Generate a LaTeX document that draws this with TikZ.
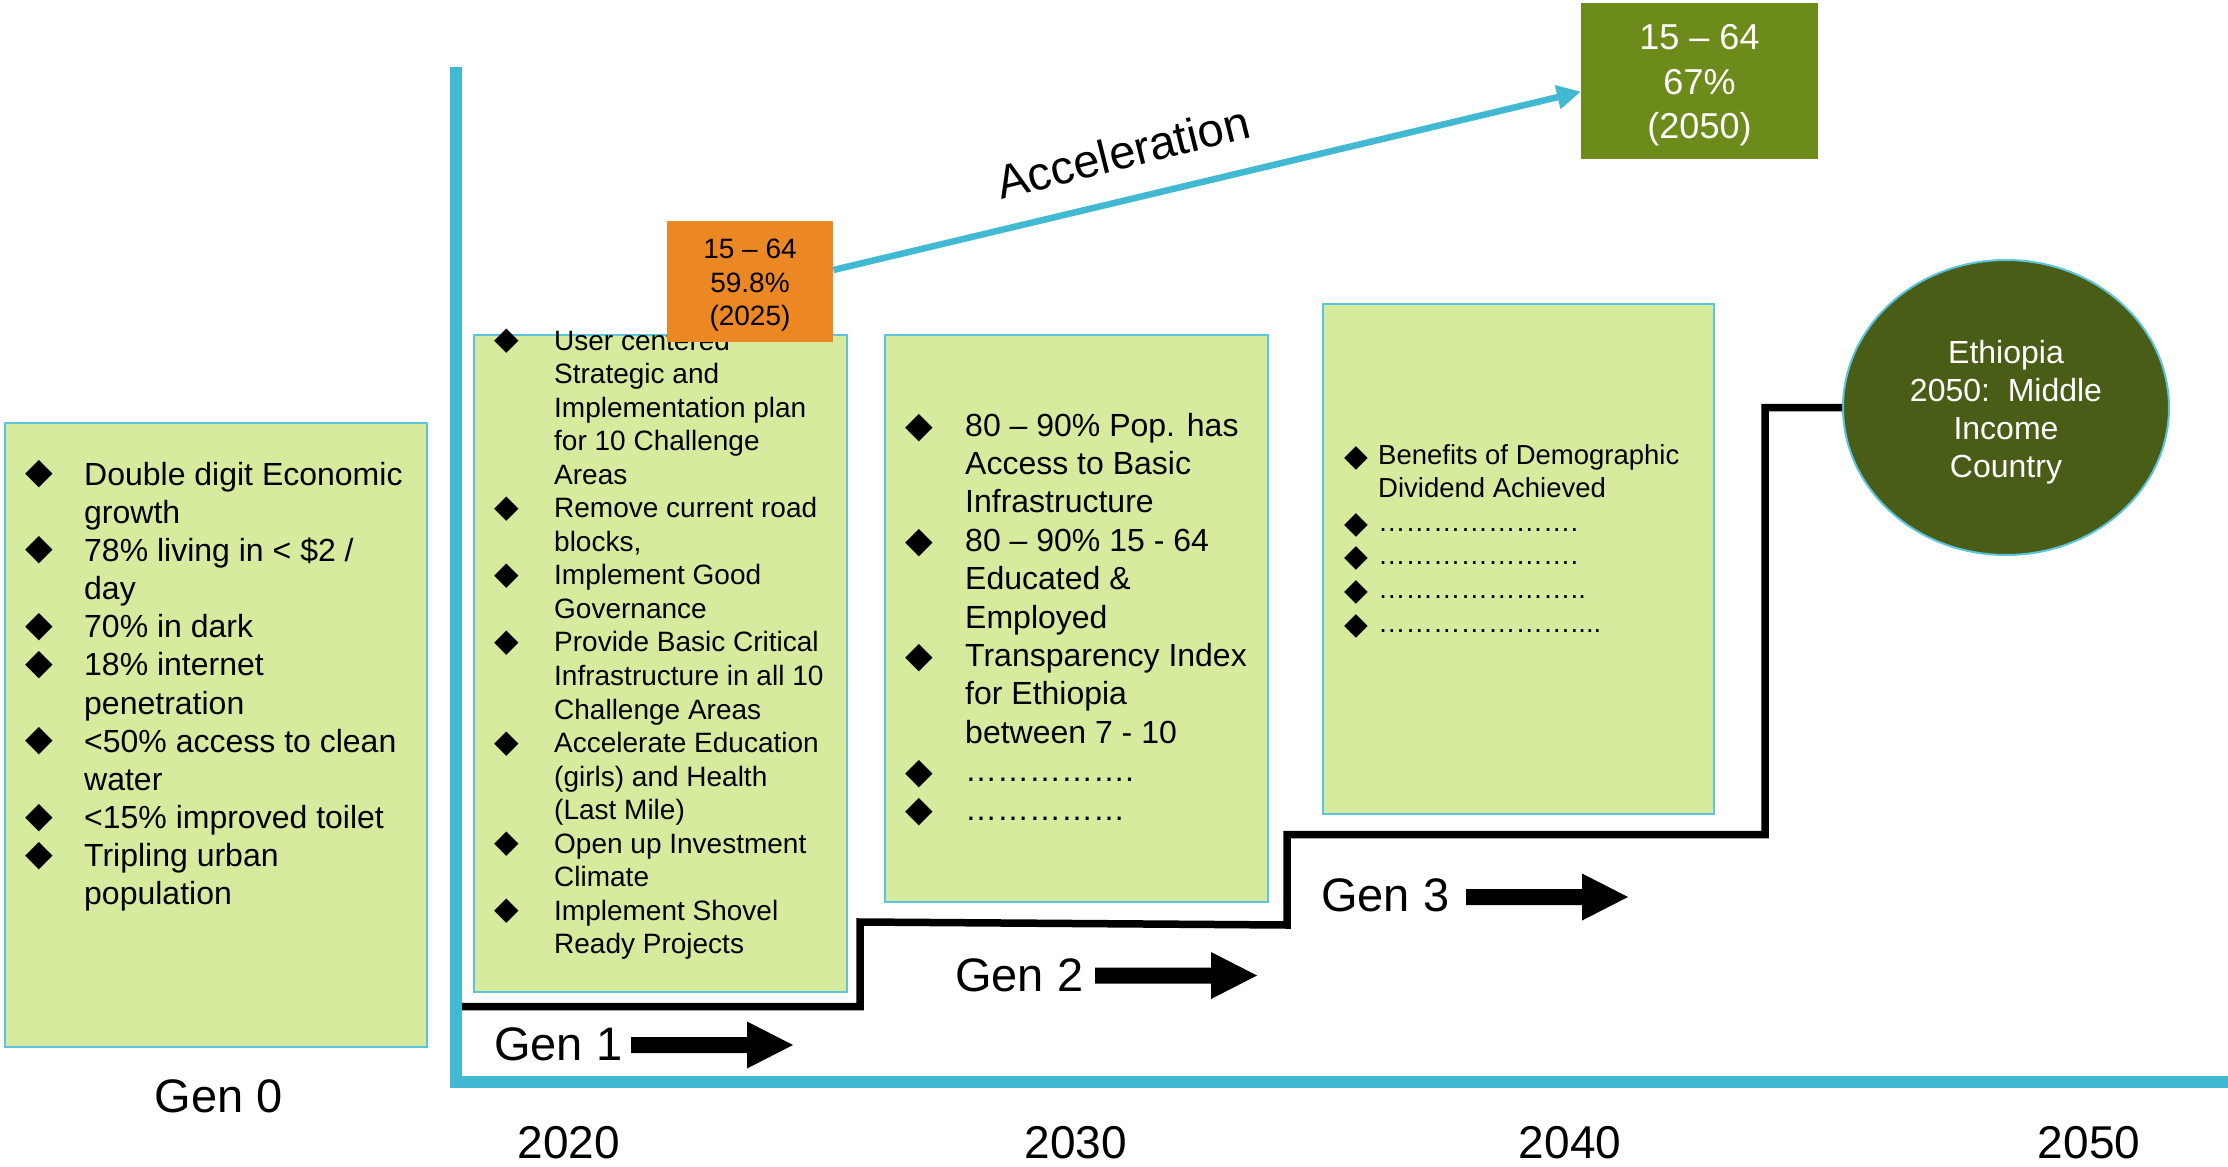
\documentclass[tikz,border=0pt]{standalone}
\usepackage{fontspec}
\setmainfont{Liberation Sans}
\newfontfamily\symfont{DejaVu Sans}
\usetikzlibrary{shapes.geometric,arrows.meta}

\definecolor{boxfill}{HTML}{D7EB9E}
\definecolor{boxline}{HTML}{5BC5DE}
\definecolor{axisblue}{HTML}{41B9D3}
\definecolor{orangebox}{HTML}{EC8823}
\definecolor{olivebox}{HTML}{6C8B1A}
\definecolor{darkolive}{HTML}{4A5D16}

\newlength{\bgap}
\newlength{\braise}
\def\bsize{32pt}
\newcommand{\fsz}[2]{\fontsize{#1}{#2}\selectfont}
\newcommand{\bul}{\makebox[0pt]{\smash{\raisebox{\braise}{\symfont\fontsize{\bsize}{\bsize}\selectfont ◆}}}}
\newcommand{\bitem}[1]{\bul\hspace*{\bgap}#1}
\newcommand{\citem}[1]{\hspace*{\bgap}#1}

\begin{document}
\begin{tikzpicture}[x=1pt,y=-1pt,
  gbox/.style={draw=boxline, line width=2pt, fill=boxfill, anchor=north west, inner sep=0pt},
  btext/.style={anchor=base west, inner sep=0pt},
  ctext/.style={anchor=base, inner sep=0pt},
  axisline/.style={draw=axisblue, line width=12pt, line join=miter, line cap=butt},
  stepline/.style={draw=black, line width=7.5pt, line join=miter},
  accel/.style={draw=axisblue, line width=6.5pt, -{Triangle[length=24pt,width=23pt]}},
  biglabel/.style={inner sep=0pt, anchor=base, font=\fsz{47pt}{56pt}},
  yearlabel/.style={inner sep=0pt, anchor=base, font=\fsz{46pt}{55pt}},
  blockarrow/.pic={\fill[black] (0,-8) -- (116,-8) -- (116,-23.5) -- (162,0) -- (116,23.5) -- (116,8) -- (0,8) -- cycle;}
]
\useasboundingbox (0,0) rectangle (2228,1167);

% axes
\coordinate (axtop) at (456,67);
\coordinate (axorig) at (456,1082);
\coordinate (axend) at (2228,1082);
\draw[axisline] (axtop) -- (axorig) -- (axend);

% Gen 0
\node[gbox, minimum width=422pt, minimum height=624pt] (g0box) at (4,422) {};
\node[btext] (g0txt) at (39,485) {\fsz{32pt}{38.18pt}\setlength{\bgap}{45pt}\setlength{\braise}{1.5pt}\def\bsize{36pt}%
\begin{tabular}[t]{@{}l@{}}
\bitem{Double digit Economic}\\
\citem{growth}\\
\bitem{78\% living in < \$2 /}\\
\citem{day}\\
\bitem{70\% in dark}\\
\bitem{18\% internet}\\
\citem{penetration}\\
\bitem{<50\% access to clean}\\
\citem{water}\\
\bitem{<15\% improved toilet}\\
\bitem{Tripling urban}\\
\citem{population}
\end{tabular}};

% Gen 1
\node[gbox, minimum width=373pt, minimum height=657pt] (g1box) at (473,334) {};
\node[btext] (g1txt) at (507,350) {\fsz{28pt}{33.55pt}\setlength{\bgap}{47pt}\setlength{\braise}{0.5pt}\def\bsize{32pt}%
\begin{tabular}[t]{@{}l@{}}
\bitem{User centered}\\
\citem{Strategic and}\\
\citem{Implementation plan}\\
\citem{for 10 Challenge}\\
\citem{Areas}\\
\bitem{Remove current road}\\
\citem{blocks,}\\
\bitem{Implement Good}\\
\citem{Governance}\\
\bitem{Provide Basic Critical}\\
\citem{Infrastructure in all 10}\\
\citem{Challenge Areas}\\
\bitem{Accelerate Education}\\
\citem{(girls) and Health}\\
\citem{(Last Mile)}\\
\bitem{Open up Investment}\\
\citem{Climate}\\
\bitem{Implement Shovel}\\
\citem{Ready Projects}
\end{tabular}};

% orange box (on top of Gen 1 box)
\node[fill=orangebox, anchor=north west, minimum width=166pt, minimum height=121pt, inner sep=0pt] (orange) at (667,221) {};
\node[ctext] (orangetxt) at (750,258.5) {\fsz{28pt}{33.5pt}\begin{tabular}[t]{@{}c@{}}15 – 64\\59.8\%\\(2025)\end{tabular}};

% Gen 2
\node[gbox, minimum width=383pt, minimum height=567pt] (g2box) at (884,333.5) {};
\node[btext] (g2txt) at (919,436) {\fsz{32pt}{38.4pt}\setlength{\bgap}{46pt}\setlength{\braise}{-1.5pt}\def\bsize{36pt}%
\begin{tabular}[t]{@{}l@{}}
\bitem{80 – 90\% Pop. has}\\
\citem{Access to Basic}\\
\citem{Infrastructure}\\
\bitem{80 – 90\% 15 - 64}\\
\citem{Educated \&}\\
\citem{Employed}\\
\bitem{Transparency Index}\\
\citem{for Ethiopia}\\
\citem{between 7 - 10}\\
\bitem{…………….}\\
\bitem{……………}
\end{tabular}};

% Gen 3
\node[gbox, minimum width=391pt, minimum height=510pt] (g3box) at (1322,303) {};
\node[btext] (g3txt) at (1356,464) {\fsz{27.5pt}{33.6pt}\setlength{\bgap}{22pt}\setlength{\braise}{-2pt}\def\bsize{31pt}%
\begin{tabular}[t]{@{}l@{}}
\bitem{Benefits of Demographic}\\
\citem{Dividend Achieved}\\
\bitem{………………….}\\
\bitem{………………….}\\
\bitem{…………………..}\\
\bitem{…………………....}
\end{tabular}};

% top green box
\node[fill=olivebox, anchor=north west, minimum width=237pt, minimum height=156pt, inner sep=0pt] (green) at (1581,3) {};
\node[ctext, text=white] (greentxt) at (1699.5,49.5) {\fsz{36pt}{44.5pt}\begin{tabular}[t]{@{}c@{}}15 – 64\\67\%\\(2050)\end{tabular}};

% goal ellipse
\node[ellipse, draw=boxline, line width=2pt, fill=darkolive, minimum width=326pt, minimum height=295pt, inner sep=0pt] (goal) at (2006,407.5) {};
\node[ctext, text=white] (goaltxt) at (2006,363) {\fsz{32pt}{38pt}\begin{tabular}[t]{@{}c@{}}Ethiopia\\2050:\ \ Middle\\Income\\Country\end{tabular}};

% acceleration arrow
\draw[accel] (orange.8) -- (green.185);
\node[inner sep=0pt, anchor=base, rotate=14, font=\fsz{47pt}{56pt}] (acc) at (1127,168.5) {Acceleration};

% step line
\coordinate (stepstart) at (462,1006.5);
\draw[stepline] (stepstart) -- (860,1006.5) -- (860,922) -- (1287,925) -- (1287,834.5) -- (1765,834.5) -- (1765,407.5) -- (goal.west);

% generation labels
\node[biglabel] (gen0) at (219,1112) {Gen 0};
\node[biglabel, anchor=base west] (gen1) at (494,1060) {Gen 1};
\node[biglabel, anchor=base west] (gen2) at (955,991) {Gen 2};
\node[biglabel, anchor=base west] (gen3) at (1321,911) {Gen 3};
\pic at (631,1045) {blockarrow};
\pic at (1095,975.5) {blockarrow};
\pic at (1466,897) {blockarrow};

% years
\node[yearlabel] (y2020) at (569,1158) {2020};
\node[yearlabel] (y2030) at (1076,1158) {2030};
\node[yearlabel] (y2040) at (1570,1158) {2040};
\node[yearlabel] (y2050) at (2089,1158) {2050};
\end{tikzpicture}
\end{document}
